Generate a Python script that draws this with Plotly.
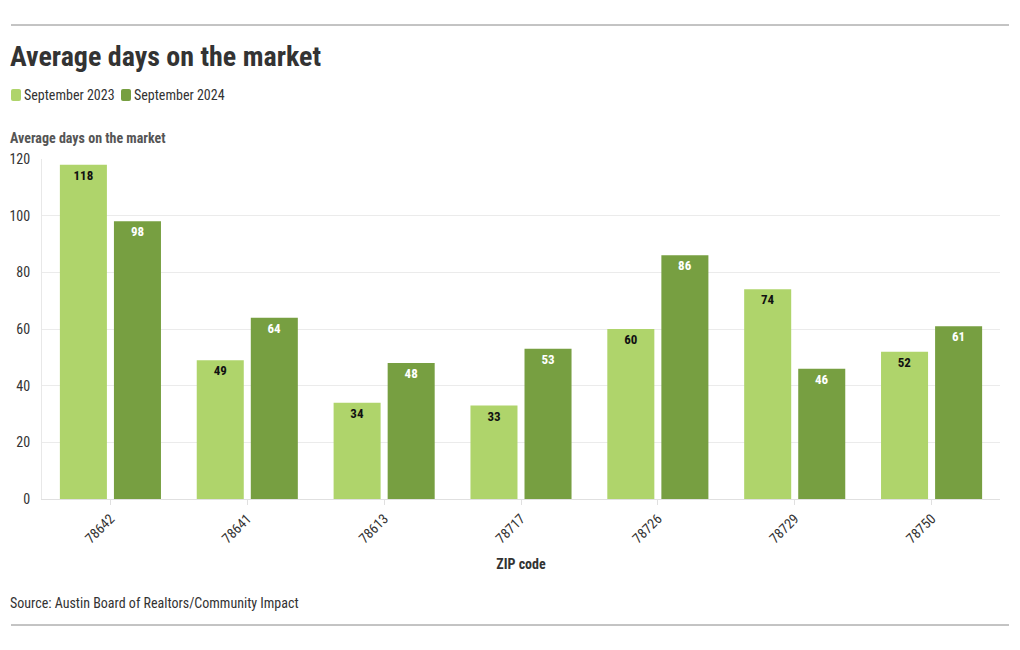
import plotly.graph_objects as go

zips = ["78642", "78641", "78613", "78717", "78726", "78729", "78750"]
sep2023 = [118, 49, 34, 33, 60, 74, 52]
sep2024 = [98, 64, 48, 53, 86, 46, 61]
yticks = [0, 20, 40, 60, 80, 100, 120]
series_names = ["September 2023", "September 2024"]

FONT = "Roboto Condensed, Liberation Sans Narrow, Roboto, sans-serif"
C1 = "#afd46b"
C2 = "#779f41"
W, H = 1020, 650
ML, MR, MT, MB = 42, 20, 159, 151

fig = go.Figure()
fig.add_trace(go.Bar(
    x=zips, y=sep2023, name=series_names[0], marker=dict(color=C1, line=dict(width=0)),
    text=sep2023, textposition="inside", insidetextanchor="end", textangle=0,
    textfont=dict(family=FONT, size=13, color="#111111", weight="bold"),
))
fig.add_trace(go.Bar(
    x=zips, y=sep2024, name=series_names[1], marker=dict(color=C2, line=dict(width=0)),
    text=sep2024, textposition="inside", insidetextanchor="end", textangle=0,
    textfont=dict(family=FONT, size=13, color="#ffffff", weight="bold"),
))

fig.update_layout(
    width=W, height=H,
    margin=dict(l=ML, r=MR, t=MT, b=MB, autoexpand=False),
    paper_bgcolor="white", plot_bgcolor="white",
    font=dict(family=FONT, size=14, color="#333333"),
    barmode="group", bargap=0.21, bargroupgap=0.13,
    showlegend=False,
    xaxis=dict(tickangle=-45, showgrid=False, showline=True, linecolor="#e0e0e0",
               automargin=False,
               ticks="outside", ticklen=5, tickcolor="#e0e0e0",
               tickfont=dict(size=14, color="#333333"),
               title=dict(text="<b>ZIP code</b>", font=dict(size=14, color="#333333"), standoff=13)),
    yaxis=dict(range=[0, 120], tickvals=yticks, showgrid=True, gridcolor="#ebebeb",
               automargin=False,
               zeroline=False, showline=True, linecolor="#e8e8e8",
               tickfont=dict(size=14, color="#333333"), ticks="", ticklabelstandoff=8),
)

PW = W - ML - MR
PH = H - MT - MB

def px_x(px):
    return (px - ML) / PW

def px_y(py):
    return (H - MB - py) / PH

def rounded_rect(x0, y0, x1, y1, r=2):
    # pixel inputs (y downward) -> paper-coordinate path
    X0, X1 = px_x(x0), px_x(x1)
    Y0, Y1 = px_y(y0), px_y(y1)
    rx, ry = r / PW, r / PH
    return (f"M {X0+rx},{Y0} L {X1-rx},{Y0} Q {X1},{Y0} {X1},{Y0-ry} "
            f"L {X1},{Y1+ry} Q {X1},{Y1} {X1-rx},{Y1} L {X0+rx},{Y1} "
            f"Q {X0},{Y1} {X0},{Y1+ry} L {X0},{Y0-ry} Q {X0},{Y0} {X0+rx},{Y0} Z")

legend_items = [(11, C1, series_names[0]), (121, C2, series_names[1])]
for lx, col, name in legend_items:
    fig.add_shape(type="path", xref="paper", yref="paper",
                  path=rounded_rect(lx, 89, lx + 10, 101),
                  fillcolor=col, line=dict(width=0), layer="above")
    fig.add_annotation(text=name, xref="paper", yref="paper",
                       x=px_x(lx + 11), y=px_y(95), xanchor="left", yanchor="middle",
                       showarrow=False, font=dict(size=14, color="#333333"))

fig.add_annotation(text="<b>Average days on the market</b>", xref="paper", yref="paper",
                   x=px_x(8), y=px_y(138), xanchor="left", yanchor="middle", showarrow=False,
                   font=dict(size=14, color="#555555"))
fig.add_annotation(text="<b>Average days on the market</b>", xref="paper", yref="paper",
                   x=px_x(8), y=px_y(57), xanchor="left", yanchor="middle", showarrow=False,
                   font=dict(size=28, color="#333333"))
fig.add_annotation(text="Source: Austin Board of Realtors/Community Impact", xref="paper", yref="paper",
                   x=px_x(8), y=px_y(603), xanchor="left", yanchor="middle", showarrow=False,
                   font=dict(size=14, color="#333333"))

for yy in [25, 625]:
    fig.add_shape(type="line", xref="paper", yref="paper",
                  x0=px_x(11), x1=px_x(1009), y0=px_y(yy), y1=px_y(yy),
                  line=dict(color="#888888", width=1))

fig.write_html("out.html")
